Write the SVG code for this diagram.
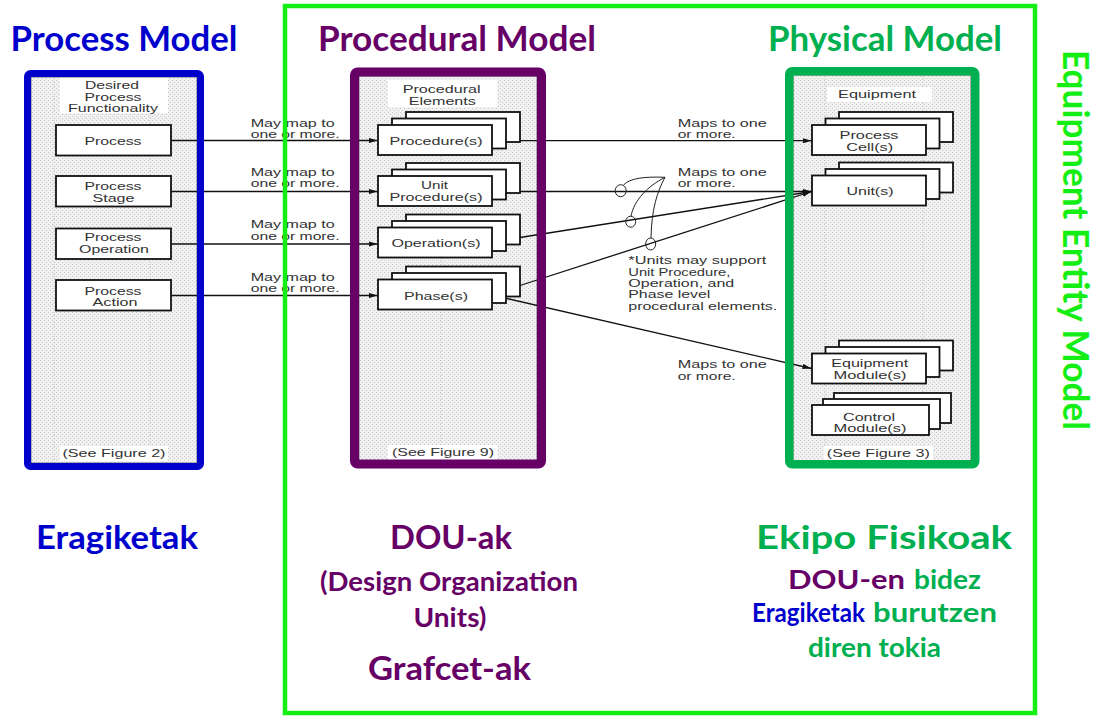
<svg xmlns="http://www.w3.org/2000/svg" width="1098" height="718" viewBox="0 0 1098 718">
  <defs>
    <pattern id="dots" width="4" height="4" patternUnits="userSpaceOnUse">
      <rect width="4" height="4" fill="#f1f1f1"/>
      <rect width="1" height="1" fill="#c8c8c8"/>
      <rect x="2" y="2" width="1" height="1" fill="#c8c8c8"/>
    </pattern>
    <marker id="arr" viewBox="0 0 10 6" refX="10" refY="3" markerWidth="9" markerHeight="5.5" markerUnits="userSpaceOnUse" orient="auto">
      <path d="M0,0 L10,3 L0,6 z" fill="#111"/>
    </marker>
    <style>
      .panel { fill: url(#dots); stroke: #555; stroke-width: 0.8; }
      .guide { stroke: #c4c4c4; stroke-width: 1; stroke-dasharray: 1 2; }
      .lbl { fill: #ffffff; }
      .box { fill: #ffffff; stroke: #111; stroke-width: 1.8; }
      .sm { font-family: "Liberation Sans", Arial, sans-serif; font-size: 11.5px; fill: #333; }
      .c { text-anchor: middle; }
      .conn { stroke: #111; stroke-width: 1.3; fill: none; }
      .pen { stroke: #222; stroke-width: 1; fill: none; }
      .big { font-family: Lato, "Open Sans", sans-serif; font-weight: bold; }
      .blue { fill: #0000cc; }
      .purple { fill: #660066; }
      .green { fill: #00b050; }
      .lime { fill: #14ee14; }
    </style>
  </defs>

  <rect width="1098" height="718" fill="#ffffff"/>

  <!-- Headers -->
  <g id="headers" class="big" font-size="35">
    <text x="124" y="51" class="blue c" textLength="227" lengthAdjust="spacingAndGlyphs">Process Model</text>
    <text x="457" y="51" class="purple c" textLength="278" lengthAdjust="spacingAndGlyphs">Procedural Model</text>
    <text x="885" y="51" class="green c" textLength="234" lengthAdjust="spacingAndGlyphs">Physical Model</text>
  </g>

  <!-- Process model column -->
  <g id="process-model">
    <rect class="panel" x="31" y="77" width="166" height="386"/>
    <line class="guide" x1="54" y1="78" x2="54" y2="462"/>
    <line class="guide" x1="150" y1="78" x2="150" y2="462"/>
    <rect class="lbl" x="60" y="78" width="108" height="35"/>
    <rect class="lbl" x="60" y="446" width="108" height="15"/>
    <text class="sm c" x="112" y="89" textLength="54" lengthAdjust="spacingAndGlyphs">Desired</text>
    <text class="sm c" x="113" y="100.6" textLength="57" lengthAdjust="spacingAndGlyphs">Process</text>
    <text class="sm c" x="113" y="112" textLength="90" lengthAdjust="spacingAndGlyphs">Functionality</text>
    <text class="sm c" x="114" y="457.3" textLength="103" lengthAdjust="spacingAndGlyphs">(See Figure 2)</text>
  </g>
  <g id="node-process">
    <rect class="box" x="56" y="125" width="115" height="30.5"/>
    <text class="sm c" x="113" y="144.8" textLength="57" lengthAdjust="spacingAndGlyphs">Process</text>
  </g>
  <g id="node-process-stage">
    <rect class="box" x="56" y="176" width="115" height="30.5"/>
    <text class="sm c" x="113" y="190" textLength="57" lengthAdjust="spacingAndGlyphs">Process</text>
    <text class="sm c" x="113.5" y="201.8" textLength="42" lengthAdjust="spacingAndGlyphs">Stage</text>
  </g>
  <g id="node-process-operation">
    <rect class="box" x="56" y="228.5" width="115" height="30.5"/>
    <text class="sm c" x="113" y="241.3" textLength="57" lengthAdjust="spacingAndGlyphs">Process</text>
    <text class="sm c" x="114" y="253.3" textLength="70" lengthAdjust="spacingAndGlyphs">Operation</text>
  </g>
  <g id="node-process-action">
    <rect class="box" x="56" y="280" width="115" height="30.5"/>
    <text class="sm c" x="113" y="294.7" textLength="57" lengthAdjust="spacingAndGlyphs">Process</text>
    <text class="sm c" x="115" y="306.3" textLength="45" lengthAdjust="spacingAndGlyphs">Action</text>
  </g>

  <!-- Procedural model column -->
  <g id="procedural-model">
    <rect class="panel" x="359" y="76" width="178" height="385"/>
    <line class="guide" x1="441" y1="108" x2="441" y2="460"/>
    <rect class="lbl" x="388" y="80" width="109" height="27"/>
    <rect class="lbl" x="388" y="445" width="109" height="15"/>
    <text class="sm c" x="441.7" y="93" textLength="78" lengthAdjust="spacingAndGlyphs">Procedural</text>
    <text class="sm c" x="442.3" y="105" textLength="67" lengthAdjust="spacingAndGlyphs">Elements</text>
    <text class="sm c" x="443" y="456.3" textLength="102" lengthAdjust="spacingAndGlyphs">(See Figure 9)</text>
  </g>
  <g id="node-procedures">
    <rect class="box" x="406" y="112" width="114" height="30"/>
    <rect class="box" x="392" y="118.5" width="114" height="30"/>
    <rect class="box" x="378" y="125" width="114" height="30"/>
    <text class="sm c" x="436" y="144.7" textLength="93" lengthAdjust="spacingAndGlyphs">Procedure(s)</text>
  </g>
  <g id="node-unit-procedures">
    <rect class="box" x="406" y="163" width="114" height="30"/>
    <rect class="box" x="392" y="169.5" width="114" height="30"/>
    <rect class="box" x="378" y="176" width="114" height="30"/>
    <text class="sm c" x="434.5" y="189" textLength="27" lengthAdjust="spacingAndGlyphs">Unit</text>
    <text class="sm c" x="436" y="201" textLength="93" lengthAdjust="spacingAndGlyphs">Procedure(s)</text>
  </g>
  <g id="node-operations">
    <rect class="box" x="406" y="214.5" width="114" height="30"/>
    <rect class="box" x="392" y="221" width="114" height="30"/>
    <rect class="box" x="378" y="227.5" width="114" height="30"/>
    <text class="sm c" x="436" y="247.3" textLength="89" lengthAdjust="spacingAndGlyphs">Operation(s)</text>
  </g>
  <g id="node-phases">
    <rect class="box" x="406" y="266.5" width="114" height="30"/>
    <rect class="box" x="392" y="273" width="114" height="30"/>
    <rect class="box" x="378" y="279.5" width="114" height="30"/>
    <text class="sm c" x="436" y="299.7" textLength="64" lengthAdjust="spacingAndGlyphs">Phase(s)</text>
  </g>

  <!-- Physical model column -->
  <g id="physical-model">
    <rect class="panel" x="793" y="75" width="178" height="386"/>
    <line class="guide" x1="825" y1="76" x2="825" y2="460"/>
    <line class="guide" x1="923" y1="76" x2="923" y2="460"/>
    <rect class="lbl" x="827" y="87" width="105" height="15"/>
    <rect class="lbl" x="824" y="446" width="109" height="15"/>
    <text class="sm c" x="877" y="98" textLength="78" lengthAdjust="spacingAndGlyphs">Equipment</text>
    <text class="sm c" x="878.3" y="457.3" textLength="103" lengthAdjust="spacingAndGlyphs">(See Figure 3)</text>
  </g>
  <g id="node-process-cells">
    <rect class="box" x="839" y="112" width="114" height="30"/>
    <rect class="box" x="825.5" y="118.5" width="114" height="30"/>
    <rect class="box" x="812" y="125" width="114" height="30"/>
    <text class="sm c" x="869" y="139" textLength="59" lengthAdjust="spacingAndGlyphs">Process</text>
    <text class="sm c" x="869.7" y="151.3" textLength="47" lengthAdjust="spacingAndGlyphs">Cell(s)</text>
  </g>
  <g id="node-units">
    <rect class="box" x="839" y="162.5" width="114" height="30"/>
    <rect class="box" x="825.5" y="169" width="114" height="30"/>
    <rect class="box" x="812" y="175.5" width="114" height="30"/>
    <text class="sm c" x="870" y="194.7" textLength="47" lengthAdjust="spacingAndGlyphs">Unit(s)</text>
  </g>
  <g id="node-equipment-modules">
    <rect class="box" x="839" y="340.5" width="114" height="30"/>
    <rect class="box" x="825.5" y="347" width="114" height="30"/>
    <rect class="box" x="812" y="353.5" width="114" height="30"/>
    <text class="sm c" x="869.7" y="367.3" textLength="77" lengthAdjust="spacingAndGlyphs">Equipment</text>
    <text class="sm c" x="870" y="379" textLength="73" lengthAdjust="spacingAndGlyphs">Module(s)</text>
  </g>
  <g id="node-control-modules">
    <rect class="box" x="834" y="393" width="117" height="30"/>
    <rect class="box" x="823" y="399" width="117" height="30"/>
    <rect class="box" x="812" y="405" width="117" height="30"/>
    <text class="sm c" x="869" y="420.7" textLength="52" lengthAdjust="spacingAndGlyphs">Control</text>
    <text class="sm c" x="870" y="432.3" textLength="73" lengthAdjust="spacingAndGlyphs">Module(s)</text>
  </g>

  <!-- Connectors and their labels -->
  <g id="connectors">
    <line class="conn" x1="171" y1="140.5" x2="377.5" y2="140.5" marker-end="url(#arr)"/>
    <line class="conn" x1="171" y1="191.5" x2="377.5" y2="191.5" marker-end="url(#arr)"/>
    <line class="conn" x1="171" y1="244" x2="377.5" y2="244" marker-end="url(#arr)"/>
    <line class="conn" x1="171" y1="295.5" x2="377.5" y2="295.5" marker-end="url(#arr)"/>

    <line class="conn" x1="520" y1="140.7" x2="811.5" y2="140.7" marker-end="url(#arr)"/>
    <line class="conn" x1="520" y1="191.5" x2="811.5" y2="191.5" marker-end="url(#arr)"/>
    <line class="conn" x1="520" y1="237.5" x2="811.5" y2="191.5" marker-end="url(#arr)"/>
    <line class="conn" x1="520" y1="285.5" x2="811.5" y2="191.5" marker-end="url(#arr)"/>
    <line class="conn" x1="506" y1="298.3" x2="811.5" y2="368.5" marker-end="url(#arr)"/>

    <!-- brace grouping the unit-level mappings -->
    <ellipse class="pen" cx="620.7" cy="190.7" rx="5.5" ry="6"/>
    <ellipse class="pen" cx="630.7" cy="221.7" rx="5" ry="5.5"/>
    <ellipse class="pen" cx="650.7" cy="244" rx="5" ry="6"/>
    <path class="pen" d="M623.5,185 C630,178 645,176.5 665,177.3"/>
    <path class="pen" d="M665,177.3 C648,186 634,200 631,216.2"/>
    <path class="pen" d="M665,177.3 C657,192 651.5,210 651,238"/>

    <g class="sm">
      <text x="250.7" y="127.3" textLength="84" lengthAdjust="spacingAndGlyphs">May map to</text>
      <text x="250.7" y="138.3" textLength="89" lengthAdjust="spacingAndGlyphs">one or more.</text>
      <text x="250.7" y="175.8" textLength="84" lengthAdjust="spacingAndGlyphs">May map to</text>
      <text x="250.7" y="187.3" textLength="89" lengthAdjust="spacingAndGlyphs">one or more.</text>
      <text x="250.7" y="228" textLength="84" lengthAdjust="spacingAndGlyphs">May map to</text>
      <text x="250.7" y="239.7" textLength="89" lengthAdjust="spacingAndGlyphs">one or more.</text>
      <text x="250.7" y="280.7" textLength="84" lengthAdjust="spacingAndGlyphs">May map to</text>
      <text x="250.7" y="291.7" textLength="89" lengthAdjust="spacingAndGlyphs">one or more.</text>

      <text x="677.7" y="127.3" textLength="89" lengthAdjust="spacingAndGlyphs">Maps to one</text>
      <text x="677.7" y="138.3" textLength="58" lengthAdjust="spacingAndGlyphs">or more.</text>
      <text x="677.7" y="175.8" textLength="89" lengthAdjust="spacingAndGlyphs">Maps to one</text>
      <text x="677.7" y="187.3" textLength="58" lengthAdjust="spacingAndGlyphs">or more.</text>
      <text x="677.7" y="368" textLength="89" lengthAdjust="spacingAndGlyphs">Maps to one</text>
      <text x="677.7" y="379.7" textLength="58" lengthAdjust="spacingAndGlyphs">or more.</text>

      <text x="628.3" y="264" textLength="138" lengthAdjust="spacingAndGlyphs">*Units may support</text>
      <text x="628.3" y="275.7" textLength="102" lengthAdjust="spacingAndGlyphs">Unit Procedure,</text>
      <text x="628.3" y="286.7" textLength="106" lengthAdjust="spacingAndGlyphs">Operation, and</text>
      <text x="628.3" y="298" textLength="82" lengthAdjust="spacingAndGlyphs">Phase level</text>
      <text x="628.3" y="310" textLength="149" lengthAdjust="spacingAndGlyphs">procedural elements.</text>
    </g>
  </g>

  <!-- Coloured column borders -->
  <g id="column-borders" fill="none">
    <rect x="27.5" y="73.5" width="173" height="393" rx="3" stroke="#0000cc" stroke-width="7"/>
    <rect x="354.5" y="72" width="187" height="392" rx="3" stroke="#660066" stroke-width="9"/>
    <rect x="789.25" y="71.25" width="186" height="393" rx="3" stroke="#00b050" stroke-width="8.5"/>
  </g>

  <!-- Equipment entity frame -->
  <g id="equipment-entity-frame">
    <rect x="285" y="6" width="750" height="707" fill="none" stroke="#14ee14" stroke-width="4.5"/>
    <text class="big lime c" font-size="37" transform="translate(1063,240) rotate(90)" textLength="380" lengthAdjust="spacingAndGlyphs">Equipment Entity Model</text>
  </g>

  <!-- Basque captions -->
  <g id="captions" class="big">
    <text class="blue c" x="117" y="549" font-size="33" textLength="162" lengthAdjust="spacingAndGlyphs">Eragiketak</text>

    <text class="purple c" x="451" y="549" font-size="33" textLength="122" lengthAdjust="spacingAndGlyphs">DOU-ak</text>
    <text class="purple c" x="449" y="591" font-size="26" textLength="258" lengthAdjust="spacingAndGlyphs">(Design Organization</text>
    <text class="purple c" x="450" y="627" font-size="26" textLength="73" lengthAdjust="spacingAndGlyphs">Units)</text>
    <text class="purple c" x="449.5" y="680" font-size="33" textLength="163" lengthAdjust="spacingAndGlyphs">Grafcet-ak</text>

    <text class="green c" x="884" y="549" font-size="33" textLength="256" lengthAdjust="spacingAndGlyphs">Ekipo Fisikoak</text>
    <text class="purple" x="788" y="589" font-size="27" textLength="117" lengthAdjust="spacingAndGlyphs">DOU-en</text>
    <text class="green" x="914" y="589" font-size="27" textLength="67" lengthAdjust="spacingAndGlyphs">bidez</text>
    <text class="blue" x="752" y="622" font-size="27" textLength="113" lengthAdjust="spacingAndGlyphs">Eragiketak</text>
    <text class="green" x="873" y="622" font-size="27" textLength="124" lengthAdjust="spacingAndGlyphs">burutzen</text>
    <text class="green c" x="874.5" y="657" font-size="27" textLength="133" lengthAdjust="spacingAndGlyphs">diren tokia</text>
  </g>
</svg>
